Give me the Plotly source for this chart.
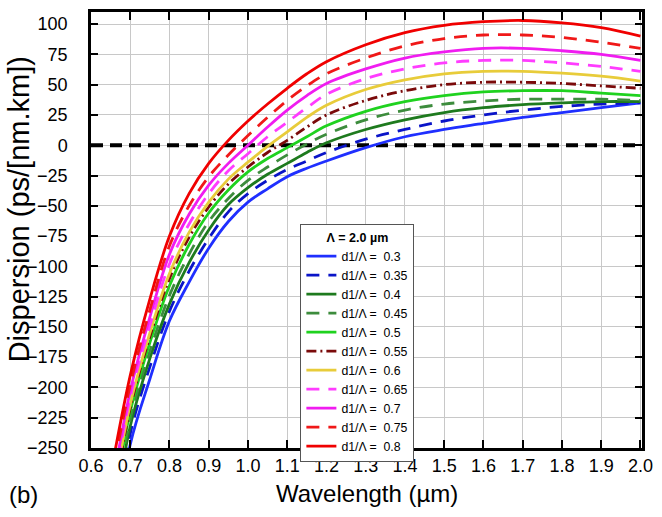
import plotly.graph_objects as go

# Wavelength grid (µm)
wavelength = [0.65, 0.7, 0.75, 0.8, 0.85, 0.9, 0.95, 1.0, 1.05, 1.1, 1.15, 1.2,
              1.3, 1.4, 1.5, 1.6, 1.7, 1.8, 1.9, 2.0]

# d1/Λ ratios
ratios = ["0.3", "0.35", "0.4", "0.45", "0.5", "0.55", "0.6", "0.65", "0.7", "0.75", "0.8"]

# Dispersion values (ps/[nm.km])
D_030 = [-340, -247, -193, -145, -113, -85, -63, -47, -36, -26, -19, -13, -2, 7, 13, 18, 23, 27, 31, 35]
D_035 = [-332, -238, -183, -137, -104, -77, -55, -40, -29, -20, -13, -6, 5, 13, 20, 25, 29, 32, 34, 35]
D_040 = [-325, -232, -176, -131, -97, -70, -49, -35, -24, -15, -6, 2, 13, 21, 27, 31, 33.5, 35, 36, 36]
D_045 = [-318, -226, -170, -124, -90, -63, -44, -29, -18, -8, 1, 9, 21, 29, 34, 36.5, 38, 38, 38, 37]
D_050 = [-310, -220, -163, -116, -82, -56, -37, -22, -11, -2, 7, 16, 28, 36, 41, 44, 45, 45, 43, 41]
D_055 = [-305, -217, -158, -110, -76, -51, -32, -18, -6, 4, 15, 25, 37, 45, 50, 52, 52, 51, 49, 47]
D_060 = [-300, -214, -155, -106, -72, -47, -28, -14, -1, 11, 23, 33, 46, 54, 59, 61, 61, 59.5, 57, 53]
D_065 = [-295, -208, -149, -98, -65, -40, -21, -7, 7, 19, 31, 42, 55, 63, 68, 70, 70, 68, 65, 61]
D_070 = [-290, -203, -142, -90, -57, -33, -15, 0, 15, 29, 41, 51, 63, 72, 77, 80, 80, 78, 75, 70]
D_075 = [-280, -198, -136, -83, -50, -26, -8, 8, 23, 37, 49, 59, 72, 82, 88, 91, 91, 89, 85, 80]
D_080 = [-272, -190, -127, -75, -40, -15, 4, 20, 34, 47, 59, 69, 83, 93, 99, 102, 103, 101, 97, 90]

series = [D_030, D_035, D_040, D_045, D_050, D_055, D_060, D_065, D_070, D_075, D_080]

colors = ["#1f2fff", "#0a14c8", "#1e7a1e", "#3d8c3d", "#1fd21f", "#7a0a0a",
          "#e8cc3a", "#ff3cff", "#f01cf0", "#f01818", "#f00000"]
dashes = ["solid", "13px,9px", "solid", "13px,9px", "solid", "10px,4px,2px,4px",
          "solid", "13px,9px", "solid", "13px,9px", "solid"]

x_ticks = [0.6, 0.7, 0.8, 0.9, 1.0, 1.1, 1.2, 1.3, 1.4, 1.5, 1.6, 1.7, 1.8, 1.9, 2.0]
x_ticktext = ["0.6", "0.7", "0.8", "0.9", "1.0", "1.1", "1.2", "1.3", "1.4",
              "1.5", "1.6", "1.7", "1.8", "1.9", "2.0"]
y_ticks = [-250, -225, -200, -175, -150, -125, -100, -75, -50, -25, 0, 25, 50, 75, 100]

zero_x = [0.6, 2.0]
zero_y = [0, 0]

FONT = "Liberation Sans, Arial, sans-serif"

fig = go.Figure()

fig.add_trace(go.Scatter(x=zero_x, y=zero_y, mode="lines",
                         line=dict(color="black", width=4, dash="12px,7px"),
                         showlegend=False, hoverinfo="skip"))

for r, d, c, ds in zip(ratios, series, colors, dashes):
    fig.add_trace(go.Scatter(
        x=wavelength, y=d, mode="lines",
        line=dict(color=c, width=2.8, dash=ds, shape="spline", smoothing=1.0),
        name="d1/Λ =\u00a0\u00a0" + r,
    ))

fig.update_layout(
    width=662, height=517,
    margin=dict(l=91, r=11, t=9, b=69),
    paper_bgcolor="white", plot_bgcolor="white",
    font=dict(family=FONT, color="black", size=18),
    showlegend=True,
    legend=dict(
        x=0.380, y=0.513, xanchor="left", yanchor="top",
        bgcolor="white", bordercolor="#555555", borderwidth=1,
        font=dict(size=12.3, family=FONT),
        title=dict(text="<b>Λ = 2.0 µm</b>", font=dict(size=12.5, family=FONT), side="top center"),
        tracegroupgap=0,
    ),
    xaxis=dict(
        range=[0.6, 2.004], tickmode="array",
        tickvals=x_ticks, ticktext=x_ticktext,
        ticks="inside", ticklen=8, tickwidth=2, tickcolor="black",
        showline=True, linewidth=2.5, linecolor="black", mirror="ticks",
        showgrid=True, gridcolor="#c8c8c8", gridwidth=1,
        zeroline=False, tickfont=dict(size=18),
    ),
    yaxis=dict(
        range=[-250, 110], tickmode="array",
        tickvals=y_ticks,
        ticks="inside", ticklen=7, tickwidth=2, tickcolor="black",
        showline=True, linewidth=2.5, linecolor="black", mirror="ticks",
        showgrid=True, gridcolor="#c8c8c8", gridwidth=1,
        zeroline=False, tickfont=dict(size=18), ticklabelstandoff=17,
    ),
    annotations=[
        dict(text="Wavelength (µm)", xref="paper", yref="paper", x=0.5, y=-0.105,
             xanchor="center", yanchor="middle", showarrow=False,
             font=dict(size=24, family=FONT)),
        dict(text="Dispersion (ps/[nm.km])", xref="paper", yref="paper",
             x=-0.131, y=0.547, xanchor="center", yanchor="middle", textangle=-90,
             showarrow=False, font=dict(size=29, family=FONT)),
        dict(text="(b)", xref="paper", yref="paper", x=-0.152, y=-0.107,
             xanchor="left", yanchor="middle", showarrow=False,
             font=dict(size=24, family=FONT)),
    ],
)

fig.write_html("out.html")
